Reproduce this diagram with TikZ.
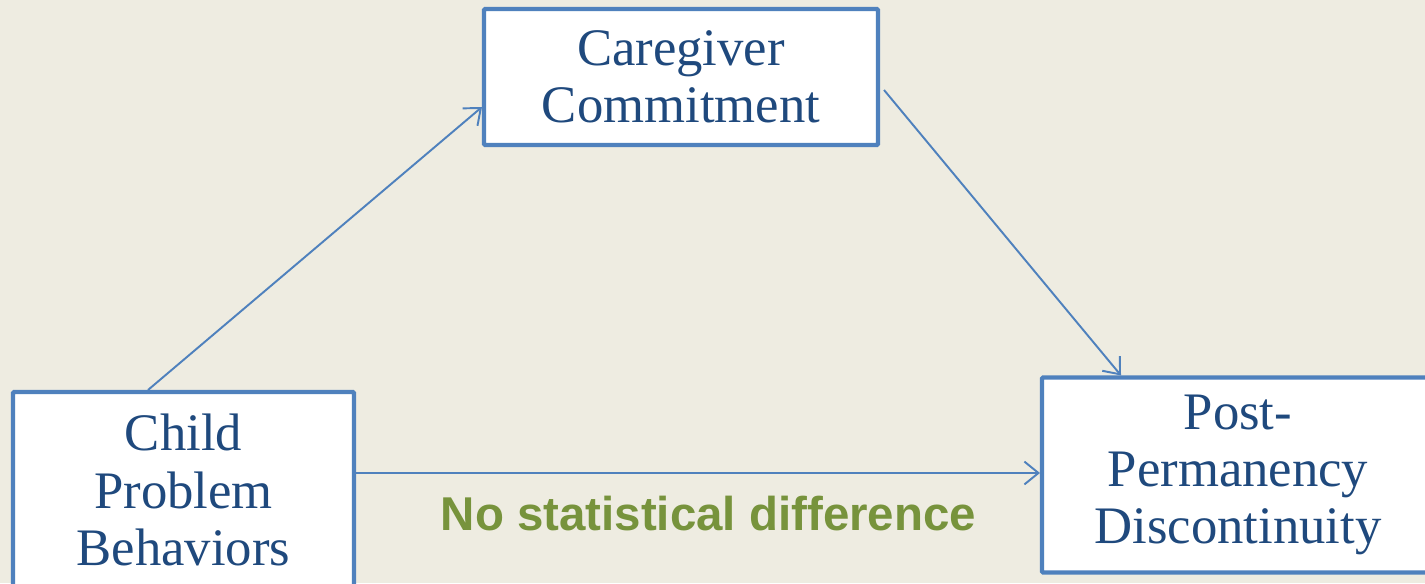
\documentclass[tikz,border=0pt]{standalone}
\usepackage{fontspec}
\setmainfont{Liberation Serif}
\newfontfamily\greenfont{Liberation Sans}
\usetikzlibrary{arrows.meta}
\definecolor{slidebg}{HTML}{EEECE1}
\definecolor{boxline}{HTML}{4F81BD}
\definecolor{boxtext}{HTML}{1F497D}
\definecolor{notegreen}{HTML}{77933C}
\tikzset{
  varbox/.style={draw=boxline, line width=2.3pt, fill=white, text=boxtext,
    align=center, rounded corners=0.5pt, font=\fontsize{30}{32.5}\selectfont},
  link/.style={draw=boxline, line width=1.1pt, -{Straight Barb[length=8pt,width=13pt]}}
}
\begin{document}
\begin{tikzpicture}
    \fill [slidebg] (0,0) rectangle (28.5,-11.66);
    \useasboundingbox (0,0) rectangle (28.5,-11.66);

    \node [varbox, minimum width=7.88cm, minimum height=2.72cm] (care) at (13.62,-1.54) {Caregiver\\Commitment};
    \node [varbox, minimum width=6.82cm, minimum height=3.92cm] (child) at (3.67,-9.8) {Child\\Problem\\Behaviors};
    \node [varbox, minimum width=7.84cm, minimum height=3.9cm] (post) at (24.76,-9.5) {Post-\\Permanency\\Discontinuity};

    \node [text=notegreen, font=\greenfont\bfseries\fontsize{27}{30}\selectfont] (nodiff) at (14.17,-10.27) {No statistical difference};

    \path ([xshift=-0.71cm]child.north) edge [link] ([yshift=-0.6cm]care.west);
    \path ([xshift=0.08cm,yshift=-0.26cm]care.east) edge [link] ([xshift=-2.34cm]post.north);
    \path ([yshift=0.34cm]child.east) edge [link] ([yshift=0.04cm]post.west);
\end{tikzpicture}
\end{document}
